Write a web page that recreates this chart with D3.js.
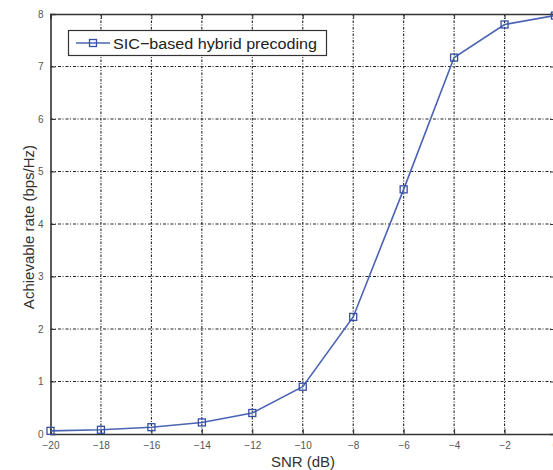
<!DOCTYPE html>
<html>
<head>
<meta charset="utf-8">
<script src="https://cdn.jsdelivr.net/npm/d3@7"></script>
<style>
  html, body { margin: 0; padding: 0; background: #fff; }
  svg { display: block; }
  text { font-family: "Liberation Sans", Arial, Helvetica, sans-serif; }
</style>
</head>
<body>
<svg id="chart" width="553" height="470"></svg>
<script>
// SNR sweep (dB) and achievable rate of SIC-based hybrid precoding (bps/Hz)
const snr = [-20, -18, -16, -14, -12, -10, -8, -6, -4, -2, 0];
const rate = [0.06, 0.08, 0.13, 0.22, 0.40, 0.90, 2.23, 4.66, 7.17, 7.80, 7.97];
const xTicks = [-20, -18, -16, -14, -12, -10, -8, -6, -4, -2, 0];
const yTicks = [0, 1, 2, 3, 4, 5, 6, 7, 8];
const seriesName = "SIC\u2212based hybrid precoding";

const svg = d3.select("#chart");
const m = { left: 50.5, right: 555, top: 14, bottom: 434 };

const x = d3.scaleLinear().domain([-20, 0]).range([m.left, m.right]);
const y = d3.scaleLinear().domain([0, 8]).range([m.bottom, m.top]);

const axisColor = "#333";
const labelColor = "#555";

// dash-dot grid
const grid = svg.append("g");
grid.selectAll("line.gx").data(xTicks.slice(1, -1)).join("line")
  .attr("x1", d => x(d)).attr("x2", d => x(d))
  .attr("y1", m.top).attr("y2", m.bottom)
  .attr("stroke", "#222").attr("stroke-width", 1.1).attr("stroke-dasharray", "2.5,1.5,1,1.5");
grid.selectAll("line.gy").data(yTicks.slice(1, -1)).join("line")
  .attr("y1", d => y(d)).attr("y2", d => y(d))
  .attr("x1", m.left).attr("x2", m.right)
  .attr("stroke", "#222").attr("stroke-width", 1.1).attr("stroke-dasharray", "3,1.5,1,2");

// axes with inward ticks
const fmt = d => d < 0 ? "\u2212" + Math.abs(d) : String(d);
const xAxis = svg.append("g").attr("transform", `translate(0,${m.bottom})`)
  .call(d3.axisBottom(x).tickValues(xTicks).tickSize(-5).tickPadding(8).tickFormat(fmt));
const xTop = svg.append("g").attr("transform", `translate(0,${m.top})`)
  .call(d3.axisTop(x).tickValues(xTicks).tickSize(-5).tickFormat(""));
const yAxis = svg.append("g").attr("transform", `translate(${m.left},0)`)
  .call(d3.axisLeft(y).tickValues(yTicks).tickSize(-5).tickPadding(7).tickFormat(d3.format("d")));
const yRight = svg.append("g").attr("transform", `translate(${m.right},0)`)
  .call(d3.axisRight(y).tickValues(yTicks).tickSize(-5).tickFormat(""));

[xAxis, xTop, yAxis, yRight].forEach(g => {
  g.select(".domain").attr("stroke", axisColor).attr("stroke-width", 1.6);
  g.selectAll(".tick line").attr("stroke", axisColor).attr("stroke-width", 1);
  g.selectAll(".tick text").attr("fill", labelColor).attr("font-size", 10)
    .attr("font-family", "'Liberation Sans', Arial, sans-serif");
});

// axis titles
svg.append("text").attr("x", 303).attr("y", 467).attr("text-anchor", "middle")
  .attr("font-size", 15).attr("fill", "#333").text("SNR (dB)");
svg.append("text").attr("transform", `translate(34,${(m.top + m.bottom) / 2 + 3}) rotate(-90)`)
  .attr("text-anchor", "middle").attr("font-size", 15).attr("fill", "#333")
  .text("Achievable rate (bps/Hz)");

// data series
const lineColor = "#4a64b4";
const pts = snr.map((s, i) => [s, rate[i]]);
svg.append("path").datum(pts)
  .attr("fill", "none").attr("stroke", lineColor).attr("stroke-width", 1.6)
  .attr("d", d3.line().x(d => x(d[0])).y(d => y(d[1])));
svg.selectAll("rect.mk").data(pts).join("rect")
  .attr("x", d => x(d[0]) - 3.5).attr("y", d => y(d[1]) - 3.5)
  .attr("width", 7).attr("height", 7)
  .attr("fill", "none").attr("stroke", "#3650a4").attr("stroke-width", 1.3);

// legend
const lg = svg.append("g");
lg.append("rect").attr("x", 68.5).attr("y", 30.5).attr("width", 258).attr("height", 25)
  .attr("fill", "#fff").attr("stroke", axisColor).attr("stroke-width", 1.2);
lg.append("line").attr("x1", 76).attr("x2", 110).attr("y1", 43).attr("y2", 43)
  .attr("stroke", lineColor).attr("stroke-width", 1.6);
lg.append("rect").attr("x", 93 - 3.5).attr("y", 43 - 3.5).attr("width", 7).attr("height", 7)
  .attr("fill", "none").attr("stroke", "#3650a4").attr("stroke-width", 1.3);
lg.append("text").attr("x", 113).attr("y", 48.5).attr("font-size", 15.5).attr("fill", "#222")
  .attr("textLength", 204).attr("lengthAdjust", "spacingAndGlyphs")
  .text(seriesName);
</script>
</body>
</html>
